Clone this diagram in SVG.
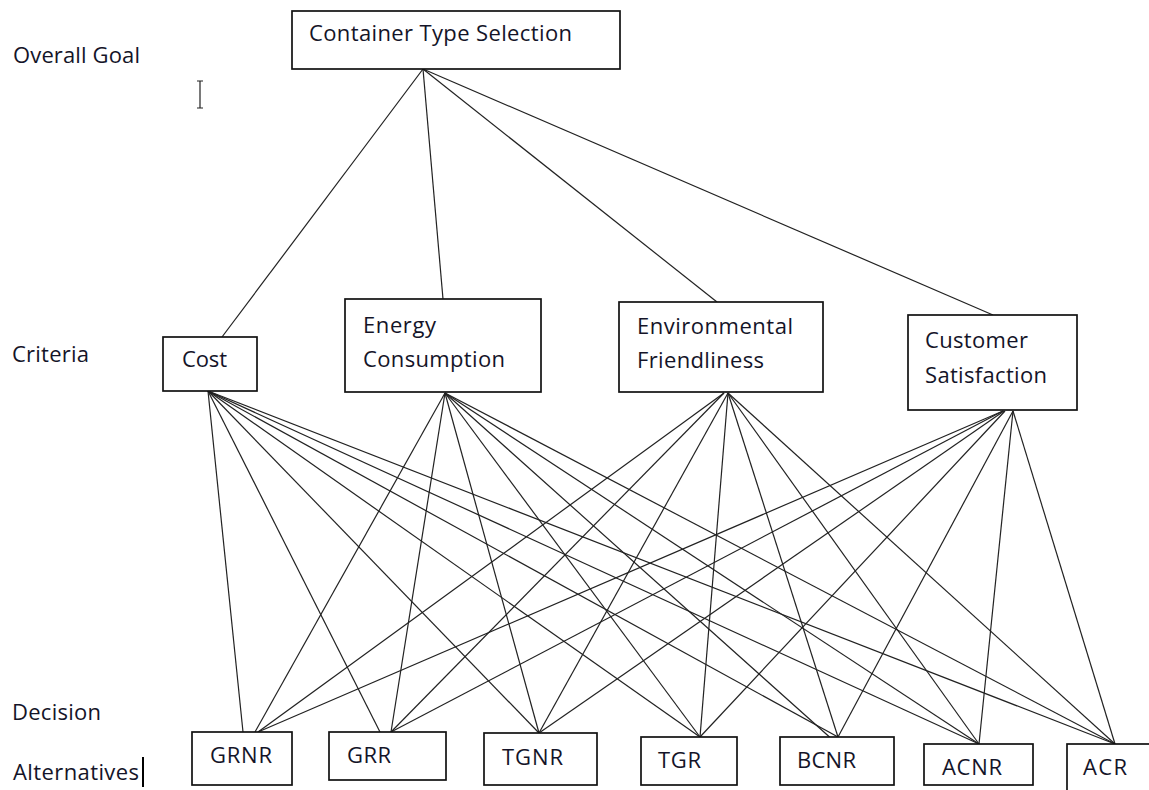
<svg xmlns="http://www.w3.org/2000/svg" width="1149" height="790" viewBox="0 0 1149 790">
<style>
.box{fill:#fff;stroke:#111;stroke-width:1.7}
.t{font-family:"Open Sans","Liberation Sans",sans-serif;font-size:22px;fill:#141428}
.c line{stroke:#222;stroke-width:1.2}
</style>
<rect width="1149" height="790" fill="#fff"/>
<g id="labels">
<text class="t" x="13" y="63" textLength="127">Overall Goal</text>
<text class="t" x="12" y="362" textLength="77">Criteria</text>
<text class="t" x="12" y="720" textLength="89">Decision</text>
<text class="t" x="13" y="780" textLength="126">Alternatives</text>
<rect x="142" y="757" width="2" height="30" fill="#000"/>
<path d="M197,81 H203 M200,81 V108 M197,108 H203" stroke="#222" stroke-width="1.2" fill="none"/>
</g>
<g class="c" id="connectors">
<line x1="423" y1="69" x2="222" y2="337"/>
<line x1="423" y1="69" x2="443" y2="299"/>
<line x1="423" y1="69" x2="717" y2="302"/>
<line x1="423" y1="69" x2="993" y2="315"/>
<line x1="208" y1="391" x2="243" y2="732"/>
<line x1="208" y1="391" x2="380" y2="732"/>
<line x1="208" y1="391" x2="539" y2="733"/>
<line x1="208" y1="391" x2="700" y2="737"/>
<line x1="208" y1="391" x2="838" y2="737"/>
<line x1="208" y1="391" x2="979" y2="744"/>
<line x1="208" y1="391" x2="1115" y2="744"/>
<line x1="445" y1="393" x2="255" y2="732"/>
<line x1="445" y1="393" x2="391" y2="732"/>
<line x1="445" y1="393" x2="539" y2="733"/>
<line x1="445" y1="393" x2="700" y2="737"/>
<line x1="445" y1="393" x2="834" y2="741"/>
<line x1="445" y1="393" x2="979" y2="744"/>
<line x1="445" y1="393" x2="1115" y2="744"/>
<line x1="724" y1="393" x2="258" y2="732"/>
<line x1="724" y1="393" x2="391" y2="732"/>
<line x1="728" y1="393" x2="539" y2="733"/>
<line x1="728" y1="393" x2="700" y2="737"/>
<line x1="728" y1="393" x2="838" y2="737"/>
<line x1="728" y1="393" x2="979" y2="744"/>
<line x1="728" y1="393" x2="1115" y2="744"/>
<line x1="1003" y1="411" x2="258" y2="732"/>
<line x1="1003" y1="411" x2="391" y2="732"/>
<line x1="1004" y1="411" x2="539" y2="733"/>
<line x1="1005" y1="411" x2="700" y2="737"/>
<line x1="1013" y1="411" x2="838" y2="737"/>
<line x1="1013" y1="411" x2="979" y2="744"/>
<line x1="1013" y1="411" x2="1115" y2="744"/>
</g>
<g id="goal">
<rect class="box" x="292" y="11" width="328" height="58"/>
<text class="t" x="309" y="41" textLength="263">Container Type Selection</text>
</g>
<g id="cost">
<rect class="box" x="163" y="337" width="94" height="54"/>
<text class="t" x="182" y="367" textLength="45">Cost</text>
</g>
<g id="energy">
<rect class="box" x="345" y="299" width="196" height="93"/>
<text class="t" x="363" y="333" textLength="73">Energy</text>
<text class="t" x="363" y="367" textLength="142">Consumption</text>
</g>
<g id="environment">
<rect class="box" x="619" y="302" width="204" height="90"/>
<text class="t" x="637" y="334" textLength="156">Environmental</text>
<text class="t" x="637" y="368" textLength="127">Friendliness</text>
</g>
<g id="customer">
<rect class="box" x="908" y="315" width="169" height="95"/>
<text class="t" x="925" y="348" textLength="103">Customer</text>
<text class="t" x="925" y="383" textLength="122">Satisfaction</text>
</g>
<g id="grnr">
<rect class="box" x="192" y="732" width="100" height="53"/>
<text class="t" x="210" y="763" textLength="62">GRNR</text>
</g>
<g id="grr">
<rect class="box" x="329" y="732" width="117" height="48"/>
<text class="t" x="347" y="763" textLength="44">GRR</text>
</g>
<g id="tgnr">
<rect class="box" x="484" y="733" width="113" height="52"/>
<text class="t" x="502" y="765" textLength="61">TGNR</text>
</g>
<g id="tgr">
<rect class="box" x="641" y="737" width="96" height="48"/>
<text class="t" x="658" y="768" textLength="43">TGR</text>
</g>
<g id="bcnr">
<rect class="box" x="780" y="737" width="114" height="48"/>
<text class="t" x="797" y="768" textLength="59">BCNR</text>
</g>
<g id="acnr">
<rect class="box" x="924" y="744" width="109" height="41"/>
<text class="t" x="942" y="775" textLength="60">ACNR</text>
</g>
<g id="acr">
<rect class="box" x="1067" y="744" width="100" height="60"/>
<text class="t" x="1083" y="775" textLength="44">ACR</text>
</g>
</svg>
